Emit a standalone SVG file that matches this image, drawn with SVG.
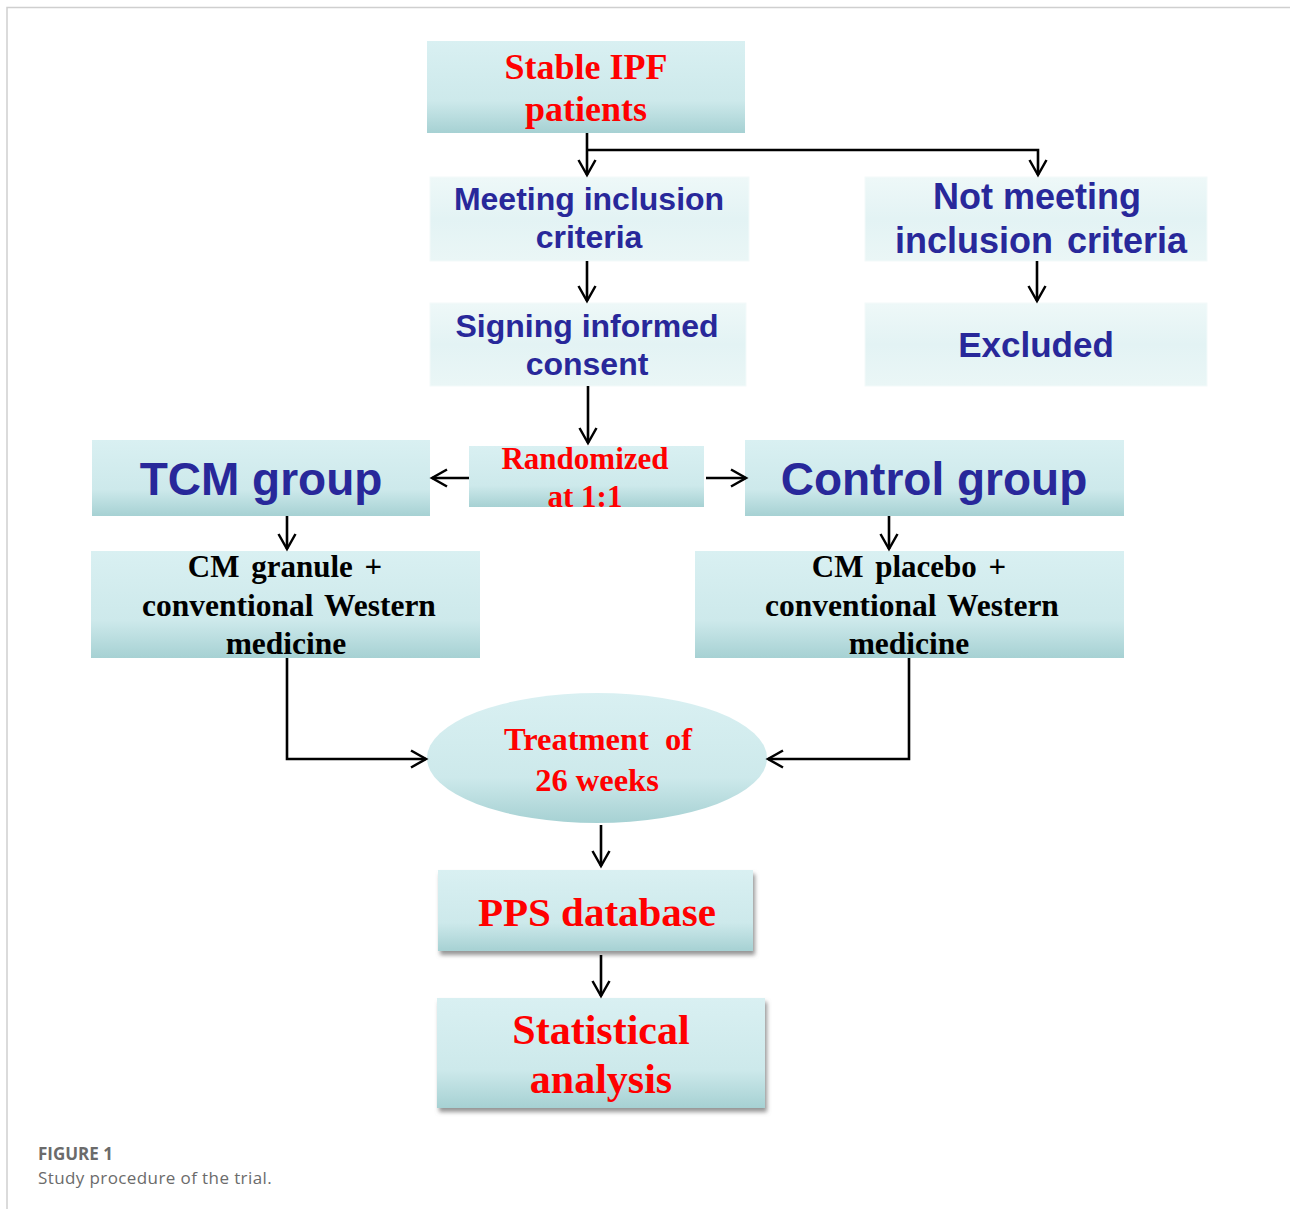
<svg xmlns="http://www.w3.org/2000/svg" width="1290" height="1209" viewBox="0 0 1290 1209">
<defs>
<linearGradient id="gDark" x1="0" y1="0" x2="0" y2="1">
<stop offset="0" stop-color="#d9f0f2"/>
<stop offset="0.65" stop-color="#cde9eb"/>
<stop offset="1" stop-color="#a6d1d3"/>
</linearGradient>
<linearGradient id="gLight" x1="0" y1="0" x2="0" y2="1">
<stop offset="0" stop-color="#eef8f8"/>
<stop offset="0.5" stop-color="#e3f3f4"/>
<stop offset="1" stop-color="#eaf6f6"/>
</linearGradient>
<filter id="shadow" x="-10%" y="-10%" width="125%" height="130%">
<feDropShadow dx="2" dy="4" stdDeviation="2" flood-color="#7a7a7a" flood-opacity="0.8"/>
</filter>
<marker id="arr" viewBox="0 0 22 22" refX="19" refY="11" markerWidth="22" markerHeight="22" markerUnits="userSpaceOnUse" orient="auto">
<path d="M4,2.5 L19,11 L4,19.5" fill="none" stroke="#000" stroke-width="2.5"/>
</marker>
<style>
.dark{fill:url(#gDark);}
.light{fill:url(#gLight);stroke:#f3fafa;stroke-width:1;}
.blue{font-family:"Liberation Sans",Arial,sans-serif;font-weight:bold;fill:#28289a;text-anchor:middle;}
.red{font-family:"Liberation Serif","Times New Roman",serif;font-weight:bold;fill:#ff0000;text-anchor:middle;}
.blk{font-family:"Liberation Serif","Times New Roman",serif;font-weight:bold;fill:#000;text-anchor:middle;}
.conn{fill:none;stroke:#000;stroke-width:2.6;}
.cap{font-family:"Open Sans",Lato,sans-serif;font-size:17px;fill:#6b6b6b;}
</style>
</defs>
<rect x="0" y="0" width="1290" height="1209" fill="#fff"/>
<path d="M7,1209 V7.5 H1290" fill="none" stroke="#cfcfcf" stroke-width="1.5"/>

<g id="n-stable">
<rect class="dark" x="427" y="41" width="318" height="92"/>
<text class="red" x="586" y="79" font-size="36">Stable IPF</text>
<text class="red" x="586" y="121" font-size="36">patients</text>
</g>
<g id="n-meeting">
<rect class="light" x="430" y="177" width="319" height="84"/>
<text class="blue" x="589" y="210" font-size="32">Meeting inclusion</text>
<text class="blue" x="589" y="248" font-size="32">criteria</text>
</g>
<g id="n-signing">
<rect class="light" x="430" y="303" width="316" height="83"/>
<text class="blue" x="587" y="337" font-size="32">Signing informed</text>
<text class="blue" x="587" y="375" font-size="32">consent</text>
</g>
<g id="n-notmeeting">
<rect class="light" x="865" y="177" width="342" height="84"/>
<text class="blue" x="1037" y="209" font-size="36">Not meeting</text>
<text class="blue" x="1041" y="253" font-size="36" word-spacing="4">inclusion criteria</text>
</g>
<g id="n-excluded">
<rect class="light" x="865" y="303" width="342" height="83"/>
<text class="blue" x="1036" y="357" font-size="35">Excluded</text>
</g>
<g id="n-random">
<rect class="dark" x="469" y="446" width="235" height="61"/>
<text class="red" x="585" y="469" font-size="31">Randomized</text>
<text class="red" x="585" y="507" font-size="31">at 1:1</text>
</g>
<g id="n-tcm">
<rect class="dark" x="92" y="440" width="338" height="76"/>
<text class="blue" x="261" y="495" font-size="46">TCM group</text>
</g>
<g id="n-control">
<rect class="dark" x="745" y="440" width="379" height="76"/>
<text class="blue" x="934" y="495" font-size="46">Control group</text>
</g>
<g id="n-cmgranule">
<rect class="dark" x="91" y="551" width="389" height="107"/>
<text class="blk" x="285" y="577" font-size="31" word-spacing="4">CM granule +</text>
<text class="blk" x="289" y="616" font-size="31.5" word-spacing="3">conventional Western</text>
<text class="blk" x="286" y="654" font-size="31.5">medicine</text>
</g>
<g id="n-cmplacebo">
<rect class="dark" x="695" y="551" width="429" height="107"/>
<text class="blk" x="909" y="577" font-size="31" word-spacing="4">CM placebo +</text>
<text class="blk" x="912" y="616" font-size="31.5" word-spacing="3">conventional Western</text>
<text class="blk" x="909" y="654" font-size="31.5">medicine</text>
</g>
<g id="n-treatment">
<ellipse class="dark" cx="597" cy="758" rx="170" ry="65"/>
<text class="red" x="598" y="750" font-size="32.5" word-spacing="8">Treatment of</text>
<text class="red" x="597" y="791" font-size="32.5">26 weeks</text>
</g>
<g id="n-pps">
<rect class="dark" x="438" y="870" width="315" height="81" filter="url(#shadow)"/>
<text class="red" x="597" y="926" font-size="41">PPS database</text>
</g>
<g id="n-stat">
<rect class="dark" x="437" y="998" width="328" height="110" filter="url(#shadow)"/>
<text class="red" x="601" y="1044" font-size="42">Statistical</text>
<text class="red" x="601" y="1093" font-size="42">analysis</text>
</g>

<g id="connectors">
<path class="conn" d="M587,133 V175" marker-end="url(#arr)"/>
<path class="conn" d="M587,150 H1038 V175" marker-end="url(#arr)"/>
<path class="conn" d="M587,261 V301" marker-end="url(#arr)"/>
<path class="conn" d="M1037,261 V301" marker-end="url(#arr)"/>
<path class="conn" d="M588,386 V443" marker-end="url(#arr)"/>
<path class="conn" d="M469,478 H432" marker-end="url(#arr)"/>
<path class="conn" d="M706,478 H746" marker-end="url(#arr)"/>
<path class="conn" d="M287,516 V549" marker-end="url(#arr)"/>
<path class="conn" d="M889,516 V549" marker-end="url(#arr)"/>
<path class="conn" d="M287,658 V759 H426" marker-end="url(#arr)"/>
<path class="conn" d="M909,658 V759 H768" marker-end="url(#arr)"/>
<path class="conn" d="M601,825 V866" marker-end="url(#arr)"/>
<path class="conn" d="M601,955 V996" marker-end="url(#arr)"/>
</g>

<g id="caption">
<text class="cap" x="38" y="1160" font-weight="bold">FIGURE 1</text>
<text class="cap" x="38" y="1184" letter-spacing="0.4">Study procedure of the trial.</text>
</g>
</svg>
